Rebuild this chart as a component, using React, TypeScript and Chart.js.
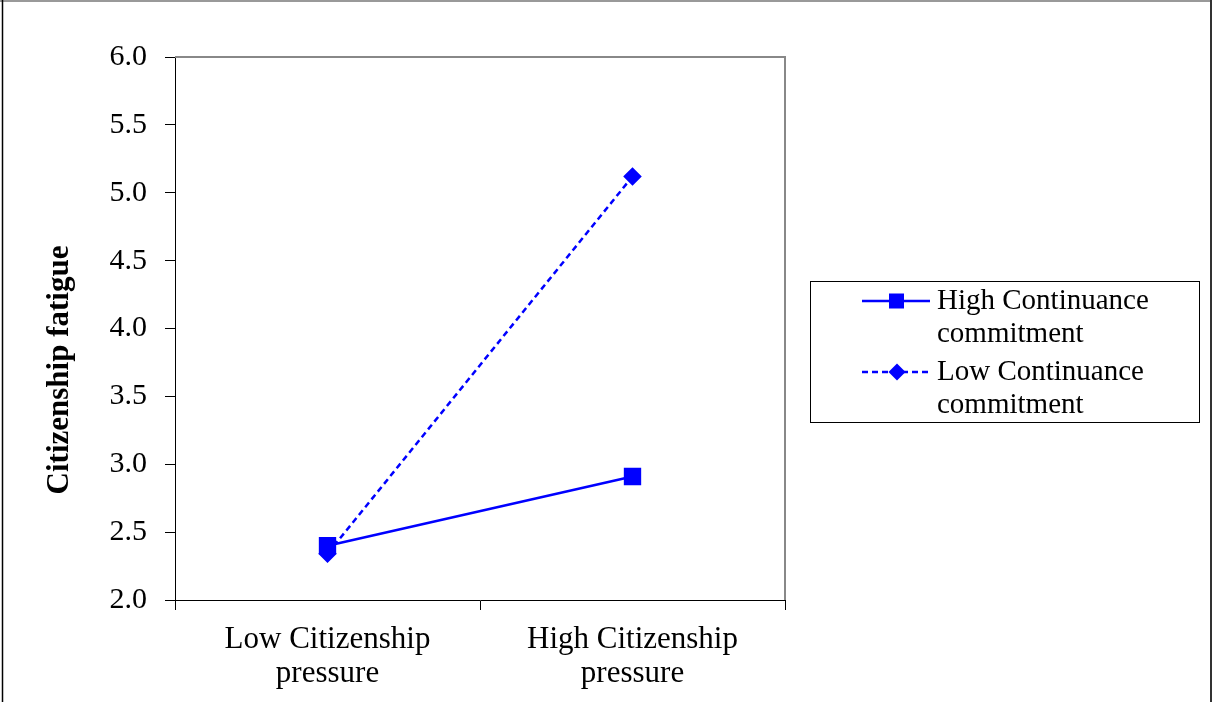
import React, { useEffect, useRef } from "react";
import { Chart, registerables } from "chart.js";

Chart.register(...registerables);

const categories: string[][] = [["Low Citizenship", "pressure"], ["High Citizenship", "pressure"]];
const highContinuance: number[] = [2.40, 2.91];
const lowContinuance: number[] = [2.34, 5.12];
const seriesNames: string[][] = [["High Continuance", "commitment"], ["Low Continuance", "commitment"]];
const yTitle = "Citizenship fatigue";

const FONT = "'Liberation Serif', 'Times New Roman', serif";
const BLUE = "#0000FF";

const framePlugin = {
  id: "framePlugin",
  beforeDraw(chart: any) {
    const ctx = chart.ctx;
    ctx.save();
    ctx.fillStyle = "#ffffff";
    ctx.fillRect(0, 0, chart.width, chart.height);
    ctx.restore();
  },
  afterDraw(chart: any) {
    const ctx = chart.ctx;
    const { left, right, top, bottom } = chart.chartArea;
    ctx.save();
    // outer border
    ctx.strokeStyle = "#999999";
    ctx.lineWidth = 2;
    ctx.beginPath();
    ctx.moveTo(0, 1);
    ctx.lineTo(chart.width, 1);
    ctx.stroke();
    ctx.strokeStyle = "#000000";
    ctx.lineWidth = 1.5;
    ctx.beginPath();
    ctx.moveTo(2.5, 0);
    ctx.lineTo(2.5, chart.height);
    ctx.stroke();
    ctx.strokeStyle = "#333333";
    ctx.lineWidth = 2;
    ctx.beginPath();
    ctx.moveTo(chart.width - 1, 0);
    ctx.lineTo(chart.width - 1, chart.height);
    ctx.stroke();
    // plot frame top/right
    ctx.strokeStyle = "#888888";
    ctx.lineWidth = 2;
    ctx.beginPath();
    ctx.moveTo(left, top);
    ctx.lineTo(right, top);
    ctx.lineTo(right, bottom);
    ctx.stroke();
    // y title
    ctx.fillStyle = "#000";
    ctx.font = `bold 31px ${FONT}`;
    ctx.textAlign = "center";
    ctx.textBaseline = "middle";
    ctx.translate(60, 370);
    ctx.rotate(-Math.PI / 2);
    ctx.fillText(yTitle, 0, 0);
    ctx.restore();

    // legend
    ctx.save();
    const bx = 810.5, by = 281.5, bw = 389, bh = 141;
    ctx.strokeStyle = "#000";
    ctx.lineWidth = 1;
    ctx.strokeRect(bx, by, bw, bh);
    const rows = [301, 372];
    chart.data.datasets.forEach((ds: any, i: number) => {
      const y = rows[i];
      ctx.strokeStyle = ds.borderColor;
      ctx.lineWidth = 2.5;
      ctx.setLineDash(ds.borderDash || []);
      ctx.beginPath();
      ctx.moveTo(862, y);
      ctx.lineTo(930, y);
      ctx.stroke();
      ctx.setLineDash([]);
      ctx.fillStyle = ds.pointBackgroundColor;
      if (ds.pointStyle === "rect") {
        ctx.fillRect(889, y - 7.5, 15, 15);
      } else {
        ctx.beginPath();
        ctx.moveTo(897, y - 8.5);
        ctx.lineTo(905.5, y);
        ctx.lineTo(897, y + 8.5);
        ctx.lineTo(888.5, y);
        ctx.closePath();
        ctx.fill();
      }
      ctx.fillStyle = "#000";
      ctx.font = `29px ${FONT}`;
      ctx.textAlign = "left";
      ctx.textBaseline = "middle";
      const lines = seriesNames[i];
      lines.forEach((t, k) => ctx.fillText(t, 937, y + k * 33));
    });
    ctx.restore();
  },
};

export default function App() {
  const ref = useRef<HTMLCanvasElement>(null);
  useEffect(() => {
    document.body.style.margin = "0";
    const chart = new Chart(ref.current!, {
      type: "line",
      data: {
        labels: categories as any,
        datasets: [
          {
            label: seriesNames[0].join(" "),
            data: highContinuance,
            borderColor: BLUE,
            backgroundColor: BLUE,
            pointBackgroundColor: BLUE,
            pointBorderColor: BLUE,
            pointStyle: "rect",
            pointRadius: 10.5,
            borderWidth: 2.5,
            tension: 0,
          } as any,
          {
            label: seriesNames[1].join(" "),
            data: lowContinuance,
            borderColor: BLUE,
            backgroundColor: BLUE,
            pointBackgroundColor: BLUE,
            pointBorderColor: BLUE,
            pointStyle: "rectRot",
            pointRadius: 7.5,
            borderWidth: 2.5,
            borderDash: [6, 4],
            tension: 0,
          } as any,
        ],
      },
      options: {
        animation: false,
        responsive: false,
        maintainAspectRatio: false,
        layout: { padding: { left: 0, top: 57, right: 427, bottom: 0 } },
        plugins: { legend: { display: false }, tooltip: { enabled: false } },
        scales: {
          x: {
            type: "category",
            offset: true,
            grid: {
              offset: true,
              drawOnChartArea: false,
              drawTicks: true,
              tickLength: 10,
              color: "#000",
            },
            border: { color: "#000", width: 1 },
            ticks: {
              color: "#000",
              font: { family: FONT, size: 31, lineHeight: 1.1 },
              padding: 13,
              maxRotation: 0,
              autoSkip: false,
            },
            afterFit: (s: any) => { s.height = 102; },
          },
          y: {
            min: 2,
            max: 6,
            grid: {
              drawOnChartArea: false,
              drawTicks: true,
              tickLength: 10,
              color: "#000",
            },
            border: { color: "#000", width: 1 },
            ticks: {
              stepSize: 0.5,
              color: "#000",
              font: { family: FONT, size: 30 },
              padding: 18,
              callback: (v: any) => Number(v).toFixed(1),
            },
            afterFit: (s: any) => { s.width = 175; },
          },
        },
      },
      plugins: [framePlugin],
    });
    return () => chart.destroy();
  }, []);
  return (
    <div style={{ width: 1212, height: 702 }}>
      <canvas ref={ref} width={1212} height={702} style={{ display: "block" }} />
    </div>
  );
}
